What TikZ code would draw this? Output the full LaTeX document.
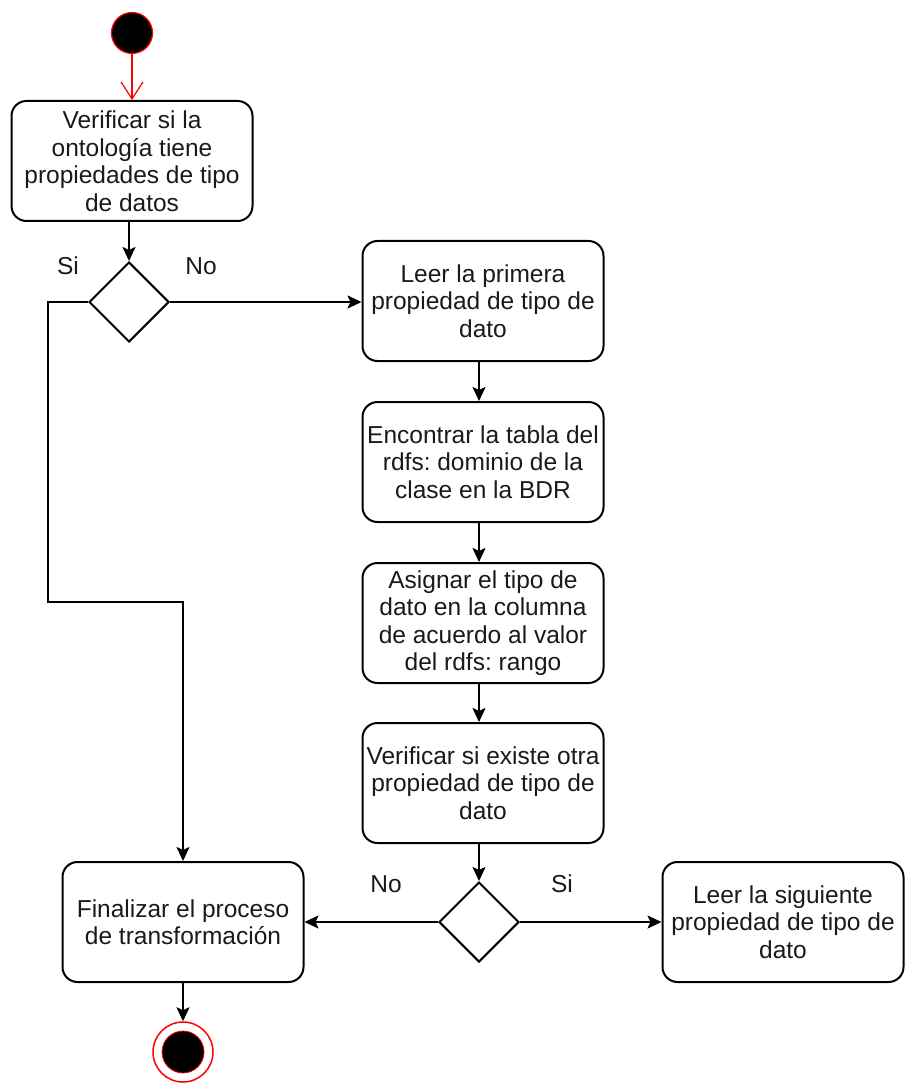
\documentclass[tikz,border=0pt]{standalone}
\usepackage{fontspec}
\setmainfont{Liberation Sans}
\usetikzlibrary{arrows.meta,shapes.geometric}
\newcommand{\boxfont}{\fontsize{24.5}{27.5}\selectfont}
\frenchspacing
\definecolor{startred}{HTML}{FF0000}
\definecolor{ink}{HTML}{1A1A1A}
\begin{document}
\begin{tikzpicture}[x=1pt,y=-1pt,
  act/.style={draw=black, line width=2pt, rounded corners=15pt,
    minimum width=241pt, minimum height=120pt, align=center,
    font=\boxfont, text=ink, inner sep=0pt},
  decision/.style={draw=black, line width=2pt, diamond, aspect=1,
    minimum width=80pt, minimum height=80pt, inner sep=0pt},
  flow/.style={draw=black, line width=2pt,
    -{Stealth[length=14pt,width=13pt,inset=3pt]}},
  lbl/.style={font=\boxfont, text=ink},
]
\useasboundingbox (0,0) rectangle (904,1083);

% initial and final states
\node[circle, fill=black, draw=startred, line width=1.2pt,
  minimum size=41pt, inner sep=0pt] (start) at (132,33) {};
\node[circle, draw=startred, fill=white, line width=1.5pt,
  minimum size=60pt, inner sep=0pt] (stop) at (183,1052) {};
\node[circle, fill=black, draw=startred, line width=0.8pt,
  minimum size=42pt, inner sep=0pt] at (stop.center) {};

% activities
\node[act] (b1) at (132,161) {Verificar si la\\ontología tiene\\propiedades de tipo\\de datos};
\node[act] (b2) at (483,301) {Leer la primera\\propiedad de tipo de\\dato};
\node[act] (b3) at (483,462) {Encontrar la tabla del\\rdfs: dominio de la\\clase en la BDR};
\node[act] (b4) at (483,623) {Asignar el tipo de\\dato en la columna\\de acuerdo al valor\\del rdfs: rango};
\node[act] (b5) at (483,783) {Verificar si existe otra\\propiedad de tipo de\\dato};
\node[act] (b6) at (183,922) {Finalizar el proceso\\de transformación};
\node[act] (b7) at (783,922) {Leer la siguiente\\propiedad de tipo de\\dato};

% decisions
\node[decision] (d1) at (129,302) {};
\node[decision] (d2) at (479,922) {};

% branch labels
\node[lbl] (si1) at (68,266) {Si};
\node[lbl] (no1) at (201,266) {No};
\node[lbl] (no2) at (386,884) {No};
\node[lbl] (si2) at (562,884) {Si};

% bend point of the "Si" branch
\coordinate (k1) at (48,602);

% connectors
\draw[startred, line width=1.2pt, -{Straight Barb[length=17pt,width=22pt]}]
  (start.south) -- (start.south |- b1.north);
\draw[flow] (b1.south -| d1.north) -- (d1.north);
\draw[flow] (d1.east) -- (d1.east -| b2.west);
\draw[flow] (d1.west) -| (k1) -| (b6.north);
\draw[flow] (b2.south -| d2.north) -- (d2.north |- b3.north);
\draw[flow] (b3.south -| d2.north) -- (d2.north |- b4.north);
\draw[flow] (b4.south -| d2.north) -- (d2.north |- b5.north);
\draw[flow] (b5.south -| d2.north) -- (d2.north);
\draw[flow] (d2.west) -- (d2.west -| b6.east);
\draw[flow] (d2.east) -- (d2.east -| b7.west);
\draw[flow] (b6.south) -- (stop.north);
\end{tikzpicture}
\end{document}
